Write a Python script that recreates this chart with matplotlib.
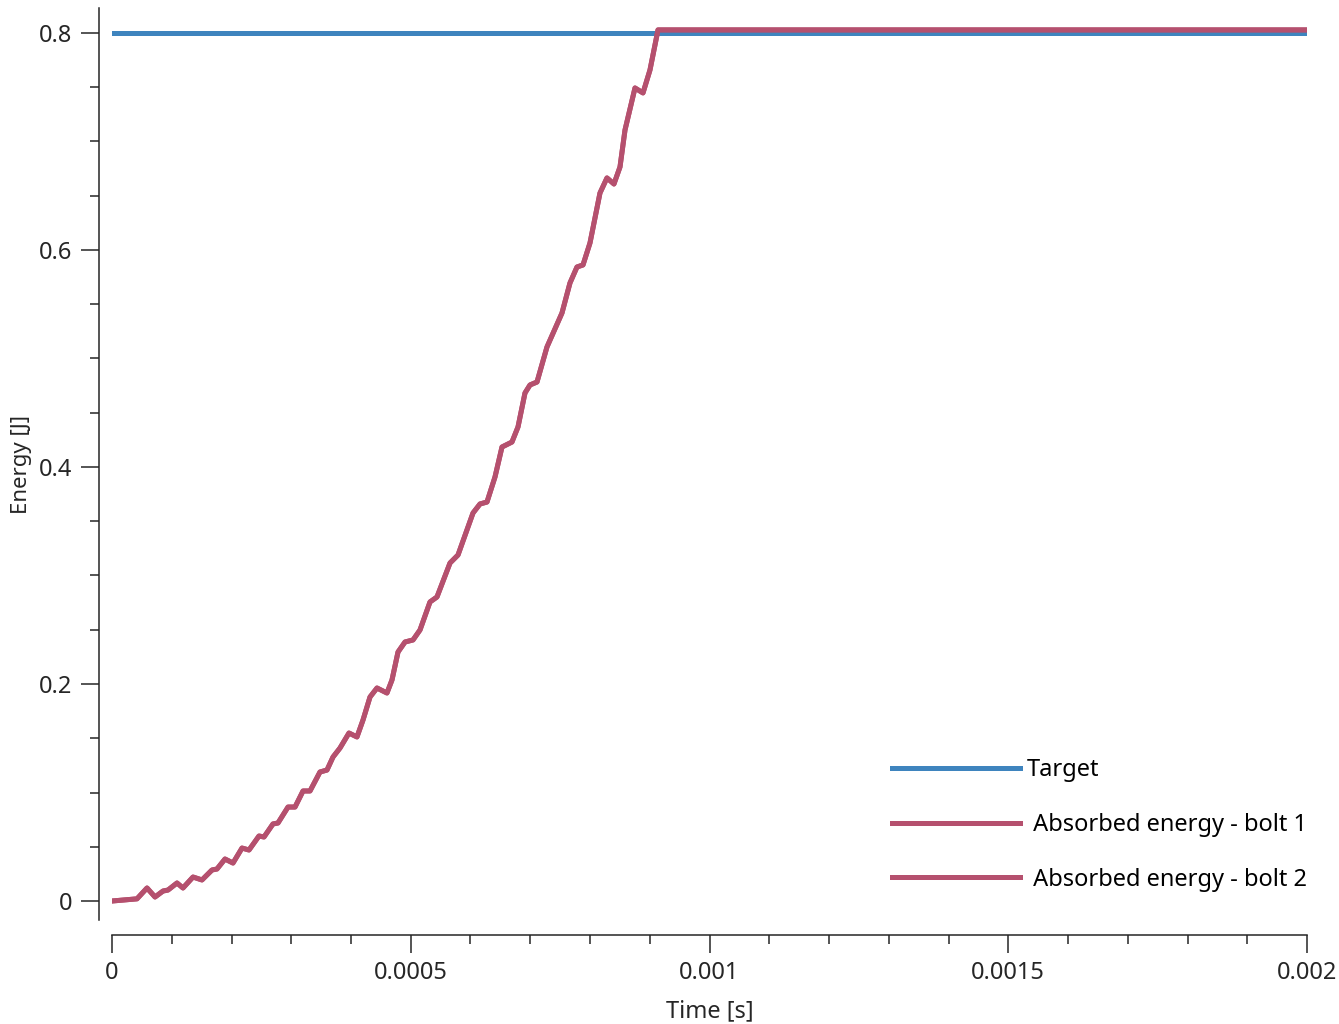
import numpy as np
import matplotlib
matplotlib.use('Agg')
import matplotlib.pyplot as plt
from matplotlib.ticker import MultipleLocator, FuncFormatter

# values
time_s = [0.0, 4.18e-5, 5.86e-5, 7.20e-5, 8.54e-5, 9.37e-5, 1.088e-4, 1.188e-4,
          1.356e-4, 1.506e-4, 1.674e-4, 1.757e-4, 1.891e-4, 2.025e-4, 2.176e-4,
          2.293e-4, 2.460e-4, 2.544e-4, 2.694e-4, 2.778e-4, 2.946e-4, 3.063e-4,
          3.197e-4, 3.314e-4, 3.481e-4, 3.598e-4, 3.699e-4, 3.816e-4, 3.966e-4,
          4.100e-4, 4.201e-4, 4.318e-4, 4.435e-4, 4.602e-4, 4.686e-4, 4.787e-4,
          4.904e-4, 5.038e-4, 5.155e-4, 5.322e-4, 5.439e-4, 5.657e-4, 5.791e-4,
          6.042e-4, 6.159e-4, 6.276e-4, 6.410e-4, 6.527e-4, 6.694e-4, 6.795e-4,
          6.912e-4, 6.996e-4, 7.113e-4, 7.280e-4, 7.531e-4, 7.665e-4, 7.782e-4,
          7.883e-4, 8.000e-4, 8.167e-4, 8.284e-4, 8.401e-4, 8.502e-4, 8.586e-4,
          8.753e-4, 8.887e-4, 9.004e-4, 9.138e-4, 0.002]
energy_bolt1 = [0.0, 0.002, 0.012, 0.0037, 0.0092, 0.0101, 0.0166, 0.012,
                0.0221, 0.0194, 0.0286, 0.0295, 0.0387, 0.035, 0.0488,
                0.047, 0.0599, 0.059, 0.071, 0.0719, 0.0866, 0.0866,
                0.1014, 0.1014, 0.1189, 0.1207, 0.1327, 0.141, 0.1548,
                0.1512, 0.1668, 0.188, 0.1963, 0.1917, 0.2037, 0.2295,
                0.2387, 0.2406, 0.2498, 0.2756, 0.2802, 0.3115, 0.3189,
                0.3576, 0.3659, 0.3677, 0.3908, 0.4184, 0.4230, 0.4369,
                0.4682, 0.4756, 0.4783, 0.5106, 0.5419, 0.5696, 0.5843,
                0.5862, 0.6065, 0.6525, 0.6664, 0.6608, 0.6765, 0.7106,
                0.7493, 0.7447, 0.7659, 0.8028, 0.8028]
energy_bolt2 = list(energy_bolt1)
target_time = [0.0, 0.002]
target_energy = [0.8, 0.8]

labels = ['Target', ' Absorbed energy - bolt 1', ' Absorbed energy - bolt 2']

plt.rcParams['font.family'] = ['Noto Sans', 'DejaVu Sans']
dark = '#262626'

fig = plt.figure(figsize=(13.39, 10.24), dpi=100)
ax = fig.add_axes([112/1339, 1-920/1024, (1307-112)/1339, (920-8)/1024])

ax.plot(target_time, target_energy, color='#3E84BE', lw=3.6, label=labels[0])
ax.plot(time_s, energy_bolt1, color='#B5506E', lw=3.6, label=labels[1],
        solid_joinstyle='round')
ax.plot(time_s, energy_bolt2, color='#B5506E', lw=3.6, label=labels[2],
        solid_joinstyle='round')

ax.set_xlim(0, 0.002)
ax.set_ylim(-0.0175, 0.823)

for s in ['top', 'right']:
    ax.spines[s].set_visible(False)
ax.spines['left'].set_position(('outward', 9.4))
ax.spines['bottom'].set_position(('outward', 10.8))
for s in ['left', 'bottom']:
    ax.spines[s].set_color(dark)
    ax.spines[s].set_linewidth(1.1)

ax.xaxis.set_major_locator(MultipleLocator(0.0005))
ax.xaxis.set_minor_locator(MultipleLocator(0.0001))
ax.yaxis.set_major_locator(MultipleLocator(0.2))
ax.yaxis.set_minor_locator(MultipleLocator(0.05))
fmt = FuncFormatter(lambda v, p: '0' if abs(v) < 1e-12 else ('%g' % v))
ax.xaxis.set_major_formatter(fmt)
ax.yaxis.set_major_formatter(fmt)

ax.tick_params(which='major', direction='out', length=13, width=1.1,
               color=dark, labelcolor=dark, labelsize=17, pad=6)
ax.tick_params(which='minor', direction='out', length=6.5, width=1.1, color=dark)

ax.set_xlabel('Time [s]', fontsize=17, color=dark, labelpad=10)
ax.set_ylabel('Energy [J]', fontsize=16, color=dark, labelpad=5)

ax.legend(loc='lower right', frameon=False, fontsize=17, handlelength=5.4,
          handletextpad=0.3, labelspacing=1.3, borderpad=0, borderaxespad=0,
          bbox_to_anchor=(1.0, 0.031))

fig.savefig('out.png', dpi=100)
